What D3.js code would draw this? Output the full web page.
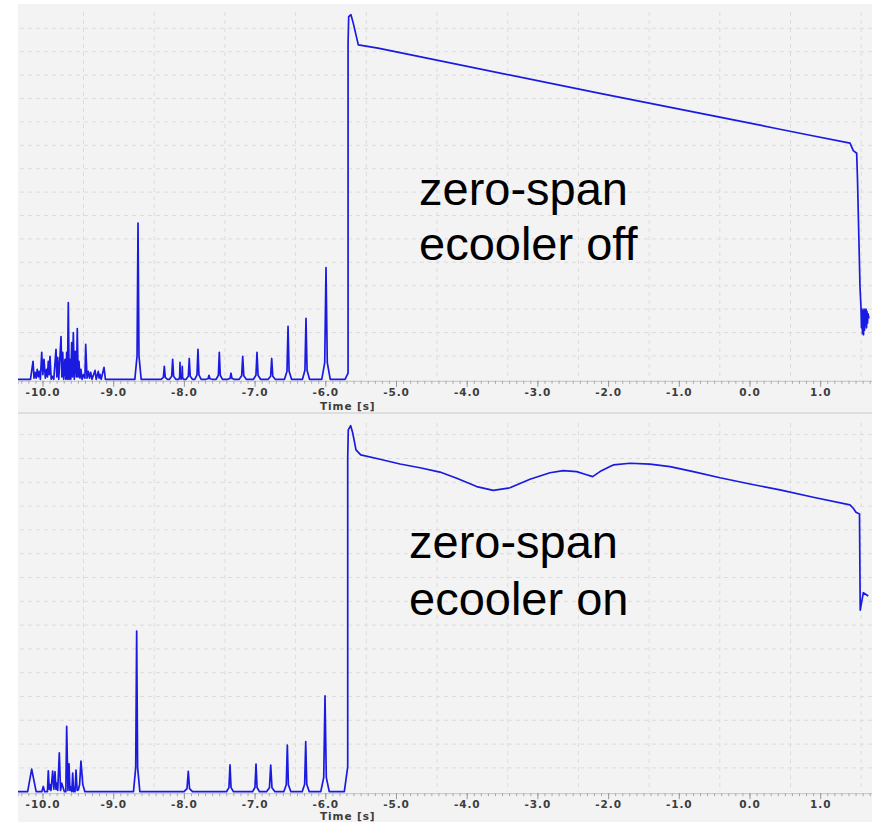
<!DOCTYPE html>
<html><head><meta charset="utf-8">
<script src="https://cdn.jsdelivr.net/npm/d3@7"></script>
<style>html,body{margin:0;padding:0;background:#fff;} svg{display:block;}</style>
</head><body>
<svg id="c" width="872" height="822"></svg>
<script>
// ---------- data ----------
const xTickValues = [-10,-9,-8,-7,-6,-5,-4,-3,-2,-1,0,1];
const xTickLabels = ["-10.0","-9.0","-8.0","-7.0","-6.0","-5.0","-4.0","-3.0","-2.0","-1.0","0.0","1.0"];
const gridTimes = [-9.42,-8.42,-7.42,-6.42,-5.42,-4.42,-3.42,-2.42,-1.42,-0.42,0.58,1.58];
const gridLevels = [1,2,3,4,5,6,7,8,9,10,11,12,13,14,15];
const axisTitle = "Time [s]";
const annotationOff = ["zero-span","ecooler off"];
const annotationOn = ["zero-span","ecooler on"];

// ecooler off: burst of noise at start (time, level)
const offCluster = [
 [-10.17,0],[-10.134,0.77],[-10.12,0.05],[-10.106,0.3],[-10.09,0.05],[-10.074,0.43],[-10.06,0.1],
 [-10.045,0.34],[-10.03,0],[-10.011,1.15],[-9.995,0.2],[-9.979,0.85],[-9.96,0.05],[-9.941,0.43],
 [-9.93,0.1],[-9.918,0.77],[-9.905,0.2],[-9.894,0.98],[-9.877,0],[-9.861,0.13],[-9.84,0],
 [-9.809,1.28],[-9.797,0.1],[-9.785,0.94],[-9.77,0],[-9.738,1.83],[-9.726,0.1],[-9.714,1.15],
 [-9.70,0],[-9.682,0.85],[-9.67,0],[-9.658,1.15],[-9.647,0],[-9.635,3.28],[-9.623,0],
 [-9.611,0.85],[-9.60,0],[-9.587,1.57],[-9.576,0.1],[-9.564,2.0],[-9.55,0],[-9.536,1.19],
 [-9.52,0.1],[-9.508,2.17],[-9.496,0.1],[-9.484,0.77],[-9.47,0.05],[-9.456,0.43],[-9.44,0],
 [-9.42,0.2],[-9.40,0.05],[-9.389,1.49],[-9.37,0.05],[-9.352,0.34],[-9.335,0.05],[-9.318,0.3],
 [-9.30,0],[-9.257,0.38],[-9.24,0],[-9.211,0.34],[-9.199,0.05],[-9.187,0.21],[-9.17,0],
 [-9.13,0.51],[-9.11,0]
];
// ecooler off: isolated spikes (time, peak level, half width)
const offSpikes = [
 [-8.649,6.68,0.045],[-8.277,0.55,0.045],[-8.159,0.85,0.045],[-8.055,0.72,0.016],[-8.023,0.55,0.016],
 [-7.924,0.89,0.045],[-7.801,1.28,0.045],[-7.645,0.17,0.045],[-7.499,1.15,0.045],[-7.334,0.26,0.045],
 [-7.168,0.98,0.05],[-6.966,1.15,0.05],[-6.758,0.89,0.05],[-6.527,2.26,0.05],[-6.273,2.60,0.05],
 [-5.990,4.77,0.06]
];
// ecooler off: beam signal after injection
const offMain = [
 [-5.721,0],[-5.678,0.26],[-5.678,14.33],[-5.669,15.5],[-5.637,15.58],[-5.604,15.21],[-5.533,14.29],
 [-5.255,14.15],[-4.943,13.96],[-2.115,12.22],[0.149,10.86],[0.361,10.73],[0.856,10.43],[1.422,10.09],
 [1.468,9.77],[1.516,9.66],[1.528,8.5],[1.563,3.96],[1.577,3.06],[1.584,2.2],[1.591,3.0],[1.598,1.95],
 [1.606,2.9],[1.613,1.9],[1.620,3.0],[1.627,2.1],[1.634,2.95],[1.641,2.3],[1.648,3.0],[1.655,2.2],
 [1.662,2.9],[1.669,2.4],[1.676,2.8],[1.690,2.6]
];

// ecooler on
const onCluster = [
 [-10.21,0],[-10.153,0.95],[-10.09,0],[-10.01,0],[-9.989,0.22],[-9.97,0],[-9.93,0],[-9.918,0.88],
 [-9.905,0.1],[-9.894,0.3],[-9.88,0.05],[-9.856,0.87],[-9.84,0.1],[-9.823,0.84],[-9.81,0.1],
 [-9.799,0.36],[-9.785,0.05],[-9.762,1.63],[-9.745,0.05],[-9.729,0.36],[-9.69,0],[-9.67,0],
 [-9.658,2.75],[-9.64,0.05],[-9.625,1.17],[-9.612,0.05],[-9.601,0.2],[-9.585,0],[-9.573,0.78],
 [-9.56,0],[-9.554,0.16],[-9.54,0],[-9.526,0.91],[-9.51,0.05],[-9.494,0.07],[-9.475,0.3],
 [-9.456,1.29],[-9.43,0.3],[-9.40,0]
];
const onSpikes = [
 [-8.668,6.75,0.045],[-7.938,0.86,0.06],[-7.348,1.13,0.05],[-6.980,1.16,0.05],[-6.772,1.12,0.06],
 [-6.537,1.96,0.05],[-6.277,2.10,0.05],[-6.004,4.03,0.06]
];
const onMain = [
 [-5.731,0],[-5.683,1.04],[-5.683,14.02],[-5.675,15.2],[-5.641,15.38],[-5.612,15.07],[-5.566,14.36],
 [-5.499,14.15],[-5.226,13.97],[-4.943,13.77],[-4.661,13.61],[-4.378,13.43],[-4.141,13.17],[-3.859,12.82],
 [-3.624,12.66],[-3.388,12.77],[-3.105,13.13],[-2.822,13.40],[-2.634,13.49],[-2.444,13.45],[-2.327,13.34],
 [-2.218,13.24],[-2.115,13.45],[-1.973,13.66],[-1.926,13.73],[-1.690,13.80],[-1.407,13.76],[-1.124,13.66],
 [-0.795,13.45],[-0.417,13.19],[0.007,12.93],[0.431,12.68],[0.902,12.37],[1.421,12.05],[1.468,11.91],
 [1.506,11.74],[1.556,11.67],[1.566,7.63],[1.591,8.05],[1.610,8.36],[1.680,8.22]
];

// ---------- drawing ----------
const svg = d3.select("#c");
const W = 872;
const lineColor = "#1a1ae0";
const x = d3.scaleLinear().domain([-10.3465, 1.7327]).range([18, 872]);

function buildSeries(cluster, spikes, main) {
  const pts = [[x.domain()[0], 0], ...cluster];
  spikes.forEach(([t, h, w]) => {
    pts.push([t - w, 0], [t - 0.3 * w, 0.15 * h], [t, h], [t + 0.3 * w, 0.15 * h], [t + w, 0]);
  });
  return pts.concat(main);
}

function panel(cfg) {
  const g = svg.append("g");
  const y = d3.scaleLinear().domain([0, 16]).range([cfg.base, cfg.base - 16 * cfg.unit]);
  g.append("rect").attr("x", 18).attr("y", cfg.bgTop).attr("width", W - 18).attr("height", cfg.bgBottom - cfg.bgTop)
    .attr("fill", "#f3f3f3");
  // grid
  g.selectAll(".hg").data(gridLevels).join("line")
    .attr("x1", 20).attr("x2", W).attr("y1", d => y(d)).attr("y2", d => y(d))
    .attr("stroke", "#dcdcdc").attr("stroke-width", 1).attr("stroke-dasharray", "4,4");
  g.selectAll(".vg").data(gridTimes).join("line")
    .attr("x1", d => x(d)).attr("x2", d => x(d)).attr("y1", cfg.plotTop).attr("y2", cfg.base)
    .attr("stroke", "#dcdcdc").attr("stroke-width", 1).attr("stroke-dasharray", "4,4");
  // axes
  const minor = d3.range(-103, 18).map(i => i / 10);
  const axMinor = g.append("g").attr("transform", `translate(0,${cfg.base + 1.5})`)
    .call(d3.axisBottom(x).tickValues(minor).tickSize(3).tickFormat(""));
  axMinor.select(".domain").attr("stroke", "#c4c4c4");
  axMinor.selectAll(".tick line").attr("stroke", "#a8a8a8");
  const axMajor = g.append("g").attr("transform", `translate(0,${cfg.base + 1.5})`)
    .call(d3.axisBottom(x).tickValues(xTickValues).tickSize(6).tickPadding(4)
      .tickFormat((d, i) => xTickLabels[i]));
  axMajor.select(".domain").remove();
  axMajor.selectAll(".tick line").attr("stroke", "#999");
  axMajor.selectAll(".tick text").attr("font-family", "DejaVu Sans").attr("font-size", 10.5)
    .attr("font-weight", "bold").attr("fill", "#3c3c3c").attr("letter-spacing", "0.9px")
    .attr("dy", "0.45em");
  g.append("text").attr("x", 320).attr("y", cfg.titleY).text(axisTitle)
    .attr("font-family", "DejaVu Sans").attr("font-size", 10.5).attr("font-weight", "bold")
    .attr("fill", "#3c3c3c").attr("letter-spacing", "0.9px");
  // trace
  const clipId = "clip" + cfg.id;
  svg.append("clipPath").attr("id", clipId).append("rect")
    .attr("x", 18).attr("y", cfg.bgTop).attr("width", W - 18).attr("height", cfg.base - cfg.bgTop + 2);
  const line = d3.line().x(d => x(d[0])).y(d => y(d[1]));
  g.append("path").datum(cfg.series).attr("clip-path", `url(#${clipId})`)
    .attr("d", line).attr("fill", "none").attr("stroke", lineColor).attr("stroke-width", 1.7)
    .attr("stroke-linejoin", "round");
  // annotation
  cfg.note.forEach((s, i) => {
    g.append("text").attr("x", cfg.noteX).attr("y", cfg.noteY + i * cfg.noteGap).text(s)
      .attr("font-family", "Liberation Sans, Arial, sans-serif").attr("font-size", 47).attr("fill", "#000");
  });
}

panel({id: 1, bgTop: 4, bgBottom: 412, plotTop: 12, base: 379.3, unit: 23.4, titleY: 410,
  series: buildSeries(offCluster, offSpikes, offMain), note: annotationOff, noteX: 419, noteY: 205, noteGap: 55});
svg.append("rect").attr("x", 18).attr("y", 412).attr("width", W - 18).attr("height", 2).attr("fill", "#dedede");
panel({id: 2, bgTop: 414, bgBottom: 822, plotTop: 423, base: 791.7, unit: 23.8, titleY: 819.5,
  series: buildSeries(onCluster, onSpikes, onMain), note: annotationOn, noteX: 409, noteY: 558, noteGap: 57});
</script>
</body></html>
